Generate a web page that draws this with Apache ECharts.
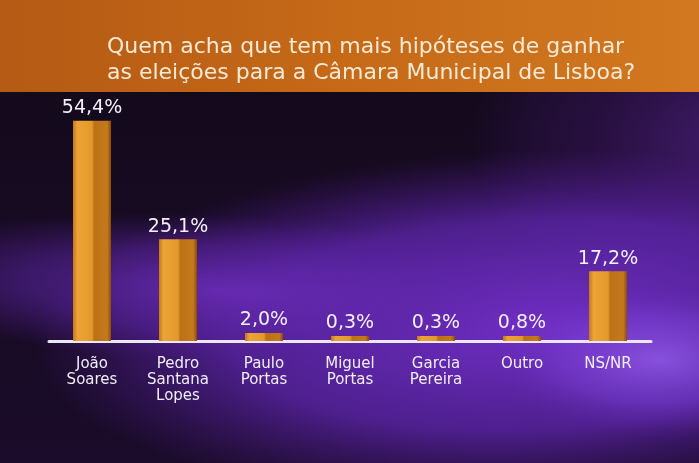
<!DOCTYPE html>
<html><head><meta charset="utf-8">
<script src="https://cdn.jsdelivr.net/npm/echarts@6/dist/echarts.min.js"></script>
<style>html,body{margin:0;padding:0;background:#150b20}#c{width:699px;height:463px}</style>
</head><body><div id="c"></div>
<script>
const titleLines = ["Quem acha que tem mais hipóteses de ganhar", "as eleições para a Câmara Municipal de Lisboa?"];
const categories = ["João\nSoares", "Pedro\nSantana\nLopes", "Paulo\nPortas", "Miguel\nPortas", "Garcia\nPereira", "Outro", "NS/NR"];
const values = [54.4, 25.1, 2.0, 0.3, 0.3, 0.8, 17.2];
const valueLabels = ["54,4%", "25,1%", "2,0%", "0,3%", "0,3%", "0,8%", "17,2%"];

const chart = echarts.init(document.getElementById('c'), null, {renderer: 'canvas'});
const font = "'DejaVu Sans', sans-serif";
function glow(x, y, sx, sy, rot, c0, c1, mid) {
  return {type: 'circle', z: -9, x: x, y: y, scaleX: sx, scaleY: sy, rotation: rot,
    shape: {cx: 0, cy: 0, r: 100}, silent: true,
    style: {fill: new echarts.graphic.RadialGradient(0.5, 0.5, 0.5, [
      {offset: 0, color: c0}, {offset: mid || 0.55, color: c1}, {offset: 1, color: 'rgba(90,30,160,0)'}])}};
}
chart.setOption({
  animation: false,
  backgroundColor: '#150b20',
  graphic: [
    {type: 'rect', z: -10, shape: {x: 0, y: 92, width: 699, height: 371}, silent: true,
     style: {fill: new echarts.graphic.LinearGradient(0, 0, 0, 1, [
       {offset: 0, color: '#140a1c'}, {offset: 1, color: '#1a0c2a'}])}},
    glow(730, 140, 2.6, 1.8, 0, 'rgba(85,35,140,0.7)', 'rgba(70,25,120,0.35)'),
    glow(530, 325, 5.0, 1.75, 0.04, 'rgba(120,50,210,0.95)', 'rgba(100,40,185,0.7)', 0.6),
    glow(220, 290, 3.6, 0.75, -0.05, 'rgba(110,45,190,0.8)', 'rgba(95,38,170,0.5)'),
    glow(660, 360, 1.8, 0.8, 0, 'rgba(155,100,245,0.7)', 'rgba(130,70,225,0.4)'),
    {type: 'rect', z: -7, shape: {x: 0, y: 0, width: 699, height: 92}, silent: true,
     style: {fill: new echarts.graphic.LinearGradient(0, 0, 1, 0, [
       {offset: 0, color: '#b45a14'}, {offset: 0.5, color: '#c66a18'}, {offset: 1, color: '#d27820'}])}},
    {type: 'text', z: 10, x: 107, y: 34, silent: true,
     style: {text: titleLines.join('\n'), fill: '#f4ead8', font: '22px ' + font, lineHeight: 26}}
  ],
  grid: {left: 49, right: 48, top: 98, bottom: 122},
  xAxis: {
    type: 'category', data: categories,
    axisTick: {show: false},
    axisLine: {lineStyle: {color: '#ece8f2', width: 3}},
    axisLabel: {color: '#f2eef8', fontSize: 15, lineHeight: 16, fontFamily: font, margin: 15, interval: 0}
  },
  yAxis: {type: 'value', min: 0, max: 60, show: false, splitLine: {show: false}},
  series: [{
    type: 'bar', data: values, barWidth: 38, barMinHeight: 5,
    itemStyle: {
      color: new echarts.graphic.LinearGradient(0, 0, 1, 0, [
        {offset: 0, color: '#c47818'}, {offset: 0.12, color: '#eca436'}, {offset: 0.5, color: '#e4982a'},
        {offset: 0.56, color: '#bd7016'}, {offset: 0.9, color: '#c47a1c'}, {offset: 1, color: '#8a4a08'}])
    },
    label: {show: true, position: 'top', distance: 3, color: '#f4f0fa', fontSize: 19, fontFamily: font,
      formatter: p => valueLabels[p.dataIndex]}
  }]
});
</script></body></html>
